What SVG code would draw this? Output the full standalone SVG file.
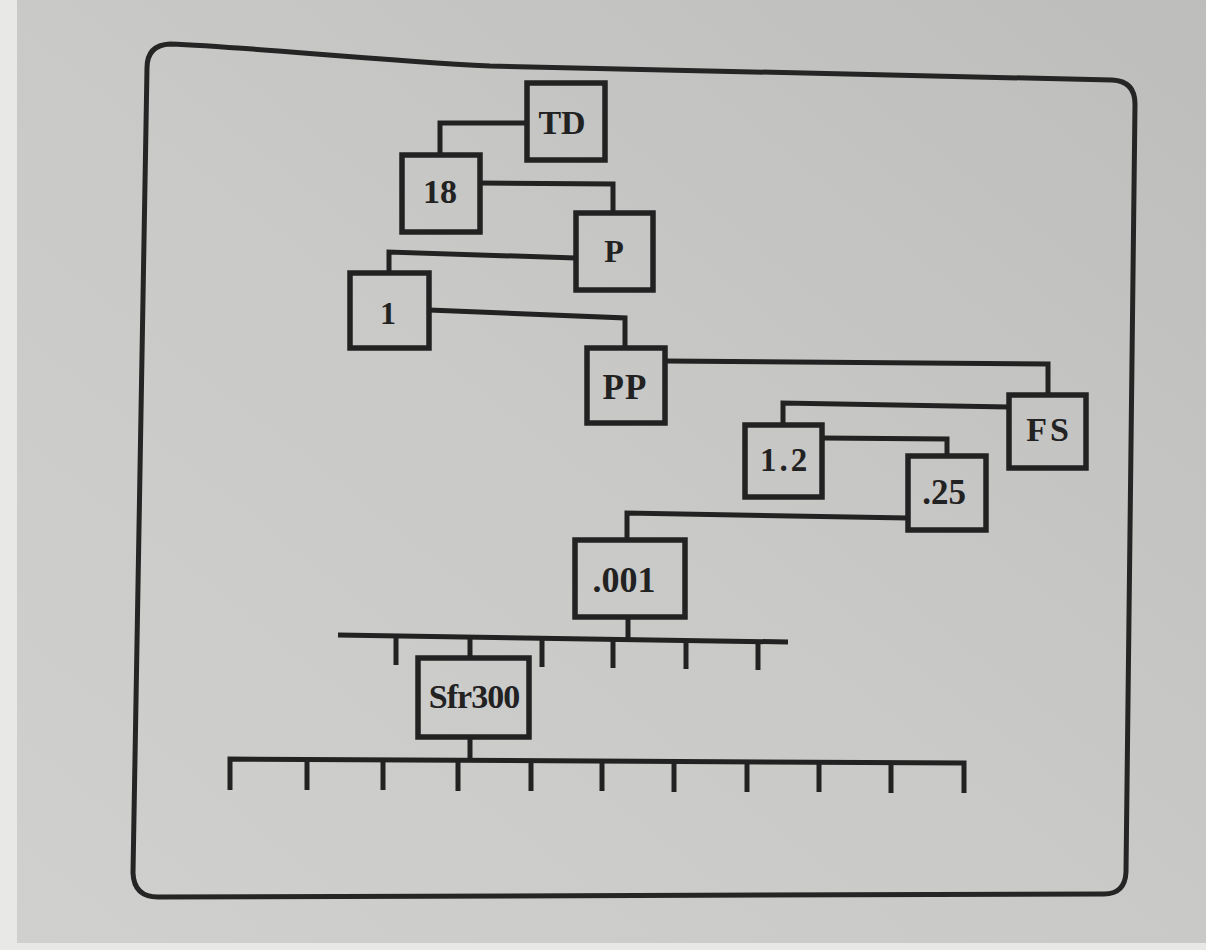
<svg xmlns="http://www.w3.org/2000/svg" width="1206" height="950" viewBox="0 0 1206 950">
  <defs>
    <linearGradient id="paper" x1="0" y1="1" x2="1" y2="0">
      <stop offset="0" stop-color="#d0d0ce"/>
      <stop offset="0.5" stop-color="#c9c9c7"/>
      <stop offset="1" stop-color="#bdbdbb"/>
    </linearGradient>
    <style>
      .box { fill: none; stroke: #222; stroke-width: 5.5; }
      .wire { fill: none; stroke: #222; stroke-width: 5; stroke-linejoin: miter; stroke-linecap: butt; }
      .frame { fill: none; stroke: #252525; stroke-width: 5; stroke-linejoin: round; }
      .lbl { fill: #222; font-family: "Liberation Serif", "DejaVu Serif", serif; font-weight: bold; text-anchor: middle; }
    </style>
  </defs>

  <!-- page -->
  <rect x="0" y="0" width="1206" height="950" fill="url(#paper)"/>
  <rect x="0" y="0" width="17" height="950" fill="#e8e8e7"/>
  <rect x="0" y="943" width="1206" height="7" fill="#e8e8e7"/>

  <!-- outer frame -->
  <path class="frame" d="M170,44 C250,47 370,60 490,66 L1112,80 Q1135,81 1135,104 L1126,872 Q1125,894 1104,894 L158,897 Q134,897 133,873 L147,68 Q147,45 170,44 Z"/>

  <!-- connectors -->
  <g id="connectors">
    <polyline class="wire" points="527,123 440,123 440,155"/>
    <polyline class="wire" points="480,183 613,184 613,213"/>
    <polyline class="wire" points="576,258 389,252 389,273"/>
    <polyline class="wire" points="429,310 625,318 625,348"/>
    <polyline class="wire" points="665,361 1048,364 1048,395"/>
    <polyline class="wire" points="1009,407 783,403 783,425"/>
    <polyline class="wire" points="822,438 947,439 947,456"/>
    <polyline class="wire" points="908,518 627,513 627,540"/>
    <!-- upper bus -->
    <line class="wire" x1="628" y1="617" x2="628" y2="638"/>
    <line class="wire" x1="338" y1="635" x2="788" y2="642"/>
    <line class="wire" x1="396" y1="636" x2="396" y2="665"/>
    <line class="wire" x1="470" y1="637" x2="470" y2="658"/>
    <line class="wire" x1="542" y1="638" x2="542" y2="667"/>
    <line class="wire" x1="613" y1="639" x2="613" y2="668"/>
    <line class="wire" x1="686" y1="640" x2="686" y2="669"/>
    <line class="wire" x1="758" y1="641" x2="758" y2="670"/>
    <!-- lower bus -->
    <line class="wire" x1="470" y1="737" x2="470" y2="760"/>
    <polyline class="wire" points="230,790 230,759 964,763 964,793"/>
    <line class="wire" x1="307" y1="759" x2="307" y2="790"/>
    <line class="wire" x1="383" y1="760" x2="383" y2="790"/>
    <line class="wire" x1="458" y1="760" x2="458" y2="791"/>
    <line class="wire" x1="531" y1="761" x2="531" y2="791"/>
    <line class="wire" x1="602" y1="761" x2="602" y2="791"/>
    <line class="wire" x1="674" y1="761" x2="674" y2="792"/>
    <line class="wire" x1="747" y1="762" x2="747" y2="792"/>
    <line class="wire" x1="819" y1="762" x2="819" y2="792"/>
    <line class="wire" x1="891" y1="762" x2="891" y2="793"/>
  </g>

  <!-- nodes -->
  <g id="node-td">
    <rect class="box" x="527" y="83" width="78" height="77"/>
    <text class="lbl" x="562" y="134" font-size="34">TD</text>
  </g>
  <g id="node-18">
    <rect class="box" x="402" y="155" width="78" height="77"/>
    <text class="lbl" x="440" y="203" font-size="34">18</text>
  </g>
  <g id="node-p">
    <rect class="box" x="576" y="213" width="77" height="77"/>
    <text class="lbl" x="614" y="262" font-size="32">P</text>
  </g>
  <g id="node-1">
    <rect class="box" x="350" y="273" width="79" height="75"/>
    <text class="lbl" x="388" y="324" font-size="32">1</text>
  </g>
  <g id="node-pp">
    <rect class="box" x="587" y="348" width="78" height="75"/>
    <text class="lbl" x="625" y="399" font-size="35" letter-spacing="1">PP</text>
  </g>
  <g id="node-fs">
    <rect class="box" x="1009" y="395" width="77" height="73"/>
    <text class="lbl" x="1049" y="441" font-size="34" letter-spacing="3">FS</text>
  </g>
  <g id="node-1-2">
    <rect class="box" x="745" y="425" width="77" height="72"/>
    <text class="lbl" x="785" y="471" font-size="33" letter-spacing="3">1.2</text>
  </g>
  <g id="node-25">
    <rect class="box" x="908" y="456" width="78" height="74"/>
    <text class="lbl" x="944" y="504" font-size="35">.25</text>
  </g>
  <g id="node-001">
    <rect class="box" x="575" y="540" width="110" height="77"/>
    <text class="lbl" x="624" y="592" font-size="36">.001</text>
  </g>
  <g id="node-sfr300">
    <rect class="box" x="418" y="658" width="111" height="79"/>
    <text class="lbl" x="474" y="708" font-size="34" letter-spacing="-1">Sfr300</text>
  </g>
</svg>
